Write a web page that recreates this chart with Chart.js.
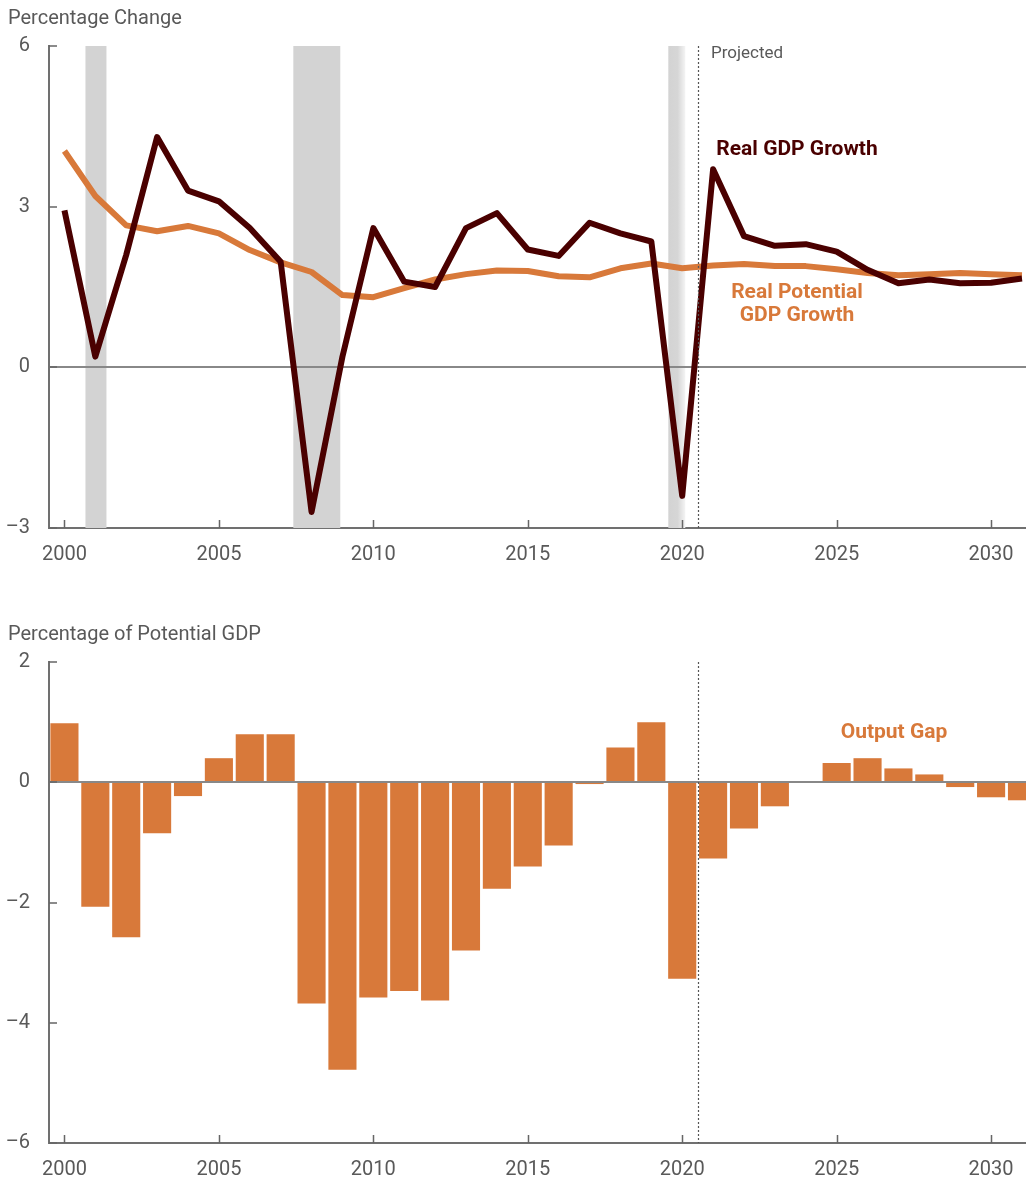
<!DOCTYPE html>
<html>
<head>
<meta charset="utf-8">
<script src="https://cdn.jsdelivr.net/npm/chart.js@4.4.1/dist/chart.umd.min.js"></script>
<style>
  body { margin: 0; background: #fff; }
  #wrap { position: relative; width: 1026px; height: 1184px; }
  canvas { position: absolute; left: 0; }
  #growth { top: 0; }
  #gap { top: 594px; }
</style>
</head>
<body>
<div id="wrap">
  <canvas id="growth" width="1026" height="594"></canvas>
  <canvas id="gap" width="1026" height="590"></canvas>
</div>
<script>
// data
const years = [2000, 2001, 2002, 2003, 2004, 2005, 2006, 2007, 2008, 2009,
               2010, 2011, 2012, 2013, 2014, 2015, 2016, 2017, 2018, 2019,
               2020, 2021, 2022, 2023, 2024, 2025, 2026, 2027, 2028, 2029,
               2030, 2031];
const realGdpGrowth = [2.93, 0.2, 2.1, 4.3, 3.3, 3.1, 2.6, 1.97, -2.7, 0.2,
                       2.6, 1.6, 1.5, 2.6, 2.88, 2.2, 2.08, 2.7, 2.5, 2.35,
                       -2.4, 3.7, 2.45, 2.27, 2.3, 2.16, 1.82, 1.57, 1.64, 1.57,
                       1.58, 1.66];
const potentialGdpGrowth = [4.04, 3.2, 2.65, 2.54, 2.64, 2.5, 2.19, 1.96, 1.78, 1.35,
                            1.31, 1.48, 1.64, 1.74, 1.81, 1.8, 1.7, 1.68, 1.85, 1.94,
                            1.85, 1.9, 1.93, 1.89, 1.89, 1.83, 1.76, 1.72, 1.74, 1.76,
                            1.74, 1.72];
const outputGap = [0.98, -2.07, -2.58, -0.85, -0.23, 0.4, 0.8, 0.8, -3.68, -4.78,
                   -3.58, -3.47, -3.63, -2.8, -1.77, -1.4, -1.05, -0.03, 0.58, 1.0,
                   -3.27, -1.27, -0.77, -0.4, -0.01, 0.32, 0.4, 0.23, 0.13, -0.08,
                   -0.25, -0.3];
const yearTicks = [2000, 2005, 2010, 2015, 2020, 2025, 2030];
const growthTicks = [-3, 0, 3, 6];
const gapTicks = [-6, -4, -2, 0, 2];
const recessionStart = [2000.68, 2007.41, 2019.55];
const recessionEnd = [2001.36, 2008.93, 2020.1];
const projectedFrom = 2020.51;

const FONT = 'Roboto, "Noto Sans", sans-serif';
const GREY = '#595959';
const DARK = '#4a0000';
const ORANGE = '#d8793a';

function minusLabel(v) {
    return v < 0 ? '\u2013' + Math.abs(v) : String(v);
}

function points(values) {
    return years.map((yr, i) => ({x: yr, y: values[i]}));
}

// x/y scales shared by both panels
function makeScales(yMin, yMax, yTicks, axisHeight) {
    return {
        x: {
            type: 'linear', min: 1999.5, max: 2031.13, offset: false,
            afterBuildTicks: (s) => { s.ticks = yearTicks.map(v => ({value: v})); },
            afterFit: (s) => { s.height = axisHeight; s.paddingLeft = 0; s.paddingRight = 0; },
            grid: {display: false, drawTicks: false, offset: false},
            border: {display: true, color: '#707070', width: 2},
            ticks: {color: GREY, padding: 15, font: {family: FONT, size: 20}, maxRotation: 0,
                    callback: (v) => String(v)}
        },
        y: {
            min: yMin, max: yMax,
            afterBuildTicks: (s) => { s.ticks = yTicks.map(v => ({value: v})); },
            afterFit: (s) => { s.width = 49; },
            grid: {display: false, drawTicks: false},
            border: {display: true, color: '#707070', width: 2},
            ticks: {color: GREY, padding: 19, font: {family: FONT, size: 20}, callback: minusLabel}
        }
    };
}

function drawZeroLine(chart) {
    const {ctx, chartArea, scales: {y}} = chart;
    const py = Math.round(y.getPixelForValue(0));
    ctx.save();
    ctx.strokeStyle = '#888';
    ctx.lineWidth = 2;
    ctx.beginPath();
    ctx.moveTo(chartArea.left, py);
    ctx.lineTo(chartArea.right, py);
    ctx.stroke();
    ctx.restore();
}

// small tick marks pointing into the plot, the dotted projection line, the axis title
const decorations = {
    id: 'decorations',
    afterDatasetsDraw(chart, args, opts) {
        const {ctx, chartArea, scales: {x, y}} = chart;
        if (opts.zeroOnTop) drawZeroLine(chart);
        ctx.save();
        ctx.strokeStyle = '#666';
        ctx.lineWidth = 1.5;
        ctx.beginPath();
        yearTicks.forEach((v) => {
            const px = Math.round(x.getPixelForValue(v)) + 0.5;
            ctx.moveTo(px, chartArea.bottom);
            ctx.lineTo(px, chartArea.bottom - 8);
        });
        y.ticks.forEach((t) => {
            const py = Math.round(y.getPixelForValue(t.value));
            ctx.moveTo(chartArea.left, py);
            ctx.lineTo(chartArea.left + 8, py);
        });
        ctx.stroke();

        const px = Math.round(x.getPixelForValue(projectedFrom)) + 0.5;
        ctx.strokeStyle = '#555';
        ctx.lineWidth = 1.2;
        ctx.setLineDash([2, 2]);
        ctx.beginPath();
        ctx.moveTo(px, chartArea.top);
        ctx.lineTo(px, chartArea.bottom);
        ctx.stroke();
        ctx.setLineDash([]);

        ctx.fillStyle = GREY;
        ctx.font = '20px ' + FONT;
        ctx.textAlign = 'left';
        ctx.textBaseline = 'alphabetic';
        ctx.fillText(opts.title, 8, opts.titleY);

        (opts.notes || []).forEach((n) => {
            ctx.fillStyle = n.color;
            ctx.font = n.font;
            ctx.textAlign = n.align || 'center';
            ctx.textBaseline = 'middle';
            ctx.fillText(n.text, n.x, n.y);
        });
        ctx.restore();
    },
    beforeDatasetsDraw(chart, args, opts) {
        const {ctx, chartArea, scales: {x}} = chart;
        (opts.shading || []).forEach(([a, b], i) => {
            const x0 = x.getPixelForValue(a), x1 = x.getPixelForValue(b);
            let fill = '#d3d3d3';
            if (i === opts.shading.length - 1) {
                fill = ctx.createLinearGradient(x0, 0, x1, 0);
                fill.addColorStop(0, '#d3d3d3');
                fill.addColorStop(0.55, '#d6d6d6');
                fill.addColorStop(1, '#f4f4f4');
            }
            ctx.fillStyle = fill;
            ctx.fillRect(x0, chartArea.top, x1 - x0, chartArea.bottom - chartArea.top);
        });
        if (!opts.zeroOnTop) drawZeroLine(chart);
    }
};

new Chart('growth', {
    type: 'line',
    data: {
        datasets: [
            {data: points(realGdpGrowth), borderColor: DARK, borderWidth: 6,
             pointRadius: 0, tension: 0, borderJoinStyle: 'round'},
            {data: points(potentialGdpGrowth), borderColor: ORANGE, borderWidth: 6,
             pointRadius: 0, tension: 0, borderJoinStyle: 'round'}
        ]
    },
    options: {
        responsive: false, animation: false,
        layout: {padding: {top: 46, left: 0, right: 0, bottom: 0}},
        scales: makeScales(-3, 6, growthTicks, 66),
        plugins: {
            legend: {display: false}, tooltip: {enabled: false},
            decorations: {
                title: 'Percentage Change', titleY: 24,
                shading: recessionStart.map((s, i) => [s, recessionEnd[i]]),
                notes: [
                    {text: 'Projected', x: 711, y: 54, color: GREY, font: '17px ' + FONT, align: 'left'},
                    {text: 'Real GDP Growth', x: 797, y: 150, color: DARK, font: 'bold 21px ' + FONT},
                    {text: 'Real Potential', x: 797, y: 293, color: ORANGE, font: 'bold 21px ' + FONT},
                    {text: 'GDP Growth', x: 797, y: 316, color: ORANGE, font: 'bold 21px ' + FONT}
                ]
            }
        }
    },
    plugins: [decorations]
});

new Chart('gap', {
    type: 'bar',
    data: {
        datasets: [
            {data: points(outputGap), backgroundColor: ORANGE, borderWidth: 0,
             barPercentage: 0.91, categoryPercentage: 1}
        ]
    },
    options: {
        responsive: false, animation: false,
        layout: {padding: {top: 68, left: 0, right: 0, bottom: 0}},
        scales: makeScales(-6, 2, gapTicks, 41),
        plugins: {
            legend: {display: false}, tooltip: {enabled: false},
            decorations: {
                title: 'Percentage of Potential GDP', titleY: 46, zeroOnTop: true,
                notes: [
                    {text: 'Output Gap', x: 894, y: 139, color: ORANGE, font: 'bold 21px ' + FONT}
                ]
            }
        }
    },
    plugins: [decorations]
});
</script>
</body>
</html>
